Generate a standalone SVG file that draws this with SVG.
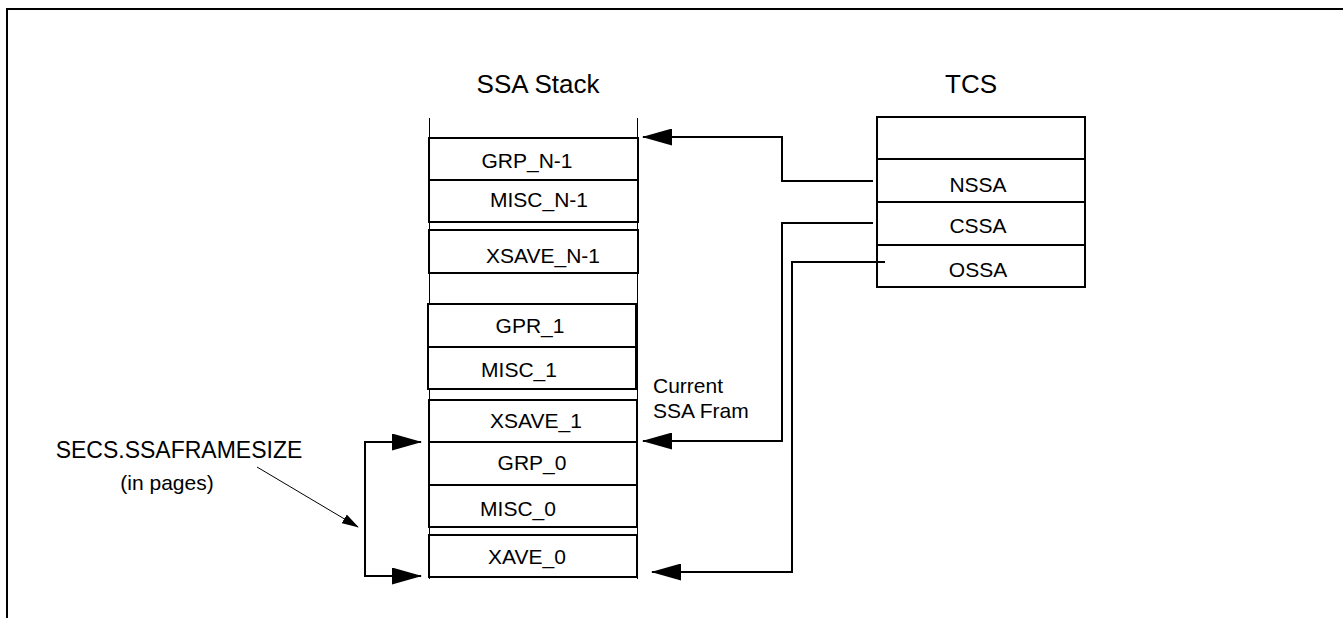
<svg xmlns="http://www.w3.org/2000/svg" width="1343" height="618" viewBox="0 0 1343 618">
<style>
  text { font-family: "Liberation Sans", Arial, sans-serif; fill: #000; }
  .lbl { font-size: 21px; text-anchor: middle; }
  .title { font-size: 26px; text-anchor: middle; }
  .box { fill: #fff; stroke: #000; stroke-width: 2; }
  .thin { stroke: #000; stroke-width: 1; fill: none; }
  .conn { stroke: #000; stroke-width: 2; fill: none; }
</style>
<defs>
  <marker id="ah" markerUnits="userSpaceOnUse" markerWidth="30" markerHeight="17" refX="29" refY="8.5" orient="auto-start-reverse">
    <path d="M0,0 L30,8.5 L0,17 Z" fill="#000"/>
  </marker>
  <marker id="ahs" markerUnits="userSpaceOnUse" markerWidth="17" markerHeight="10" refX="16" refY="5" orient="auto">
    <path d="M0,0 L17,5 L0,10 Z" fill="#000"/>
  </marker>
</defs>
<rect width="1343" height="618" fill="#fff"/>
<path d="M7,618 V9 H1343" fill="none" stroke="#000" stroke-width="2"/>

<text class="title" x="538" y="93">SSA Stack</text>
<text class="title" x="971" y="93">TCS</text>

<g id="ssa-stack">
  <line class="thin" x1="429.5" y1="118" x2="429.5" y2="579"/>
  <line class="thin" x1="637.5" y1="118" x2="637.5" y2="579"/>
  <g id="grp-n-1"><rect class="box" x="429" y="138" width="209" height="42"/><text class="lbl" x="527" y="168">GRP_N-1</text></g>
  <g id="misc-n-1"><rect class="box" x="429" y="180" width="209" height="42"/><text class="lbl" x="539" y="207">MISC_N-1</text></g>
  <g id="xsave-n-1"><rect class="box" x="429" y="230" width="209" height="43"/><text class="lbl" x="543" y="263">XSAVE_N-1</text></g>
  <g id="gpr-1"><rect class="box" x="428" y="304" width="208" height="43"/><text class="lbl" x="530" y="333">GPR_1</text></g>
  <g id="misc-1"><rect class="box" x="428" y="347" width="208" height="42"/><text class="lbl" x="519" y="377">MISC_1</text></g>
  <g id="xsave-1"><rect class="box" x="429" y="400" width="208" height="42"/><text class="lbl" x="536" y="428">XSAVE_1</text></g>
  <g id="grp-0"><rect class="box" x="429" y="442" width="208" height="43"/><text class="lbl" x="532" y="470">GRP_0</text></g>
  <g id="misc-0"><rect class="box" x="429" y="485" width="208" height="42"/><text class="lbl" x="518" y="516">MISC_0</text></g>
  <g id="xave-0"><rect class="box" x="429" y="535" width="208" height="42"/><text class="lbl" x="527" y="564">XAVE_0</text></g>
</g>

<g id="tcs">
  <rect class="box" x="877" y="117" width="208" height="170"/>
  <line class="conn" x1="877" y1="159" x2="1085" y2="159"/>
  <line class="conn" x1="877" y1="202" x2="1085" y2="202"/>
  <line class="conn" x1="877" y1="245" x2="1085" y2="245"/>
  <g id="nssa"><text class="lbl" x="978" y="192">NSSA</text></g>
  <g id="cssa"><text class="lbl" x="978" y="233">CSSA</text></g>
  <g id="ossa"><text class="lbl" x="978" y="277">OSSA</text></g>
</g>

<g id="labels">
  <text font-size="21" x="653" y="393">Current</text>
  <text font-size="21" x="653" y="418">SSA Fram</text>
  <text font-size="23" text-anchor="middle" x="179" y="458">SECS.SSAFRAMESIZE</text>
  <text font-size="21" text-anchor="middle" x="167" y="490">(in pages)</text>
</g>

<g id="connectors">
  <path class="conn" d="M873,181 H782 V137 H643" marker-end="url(#ah)"/>
  <path class="conn" d="M873,223 H782 V441 H643" marker-end="url(#ah)"/>
  <path class="conn" d="M885,262 H792 V572 H652" marker-end="url(#ah)"/>
  <path class="conn" d="M421,442 H365 V576 H421" marker-start="url(#ah)" marker-end="url(#ah)"/>
  <line class="thin" x1="257" y1="467" x2="358" y2="527" marker-end="url(#ahs)"/>
</g>
</svg>
